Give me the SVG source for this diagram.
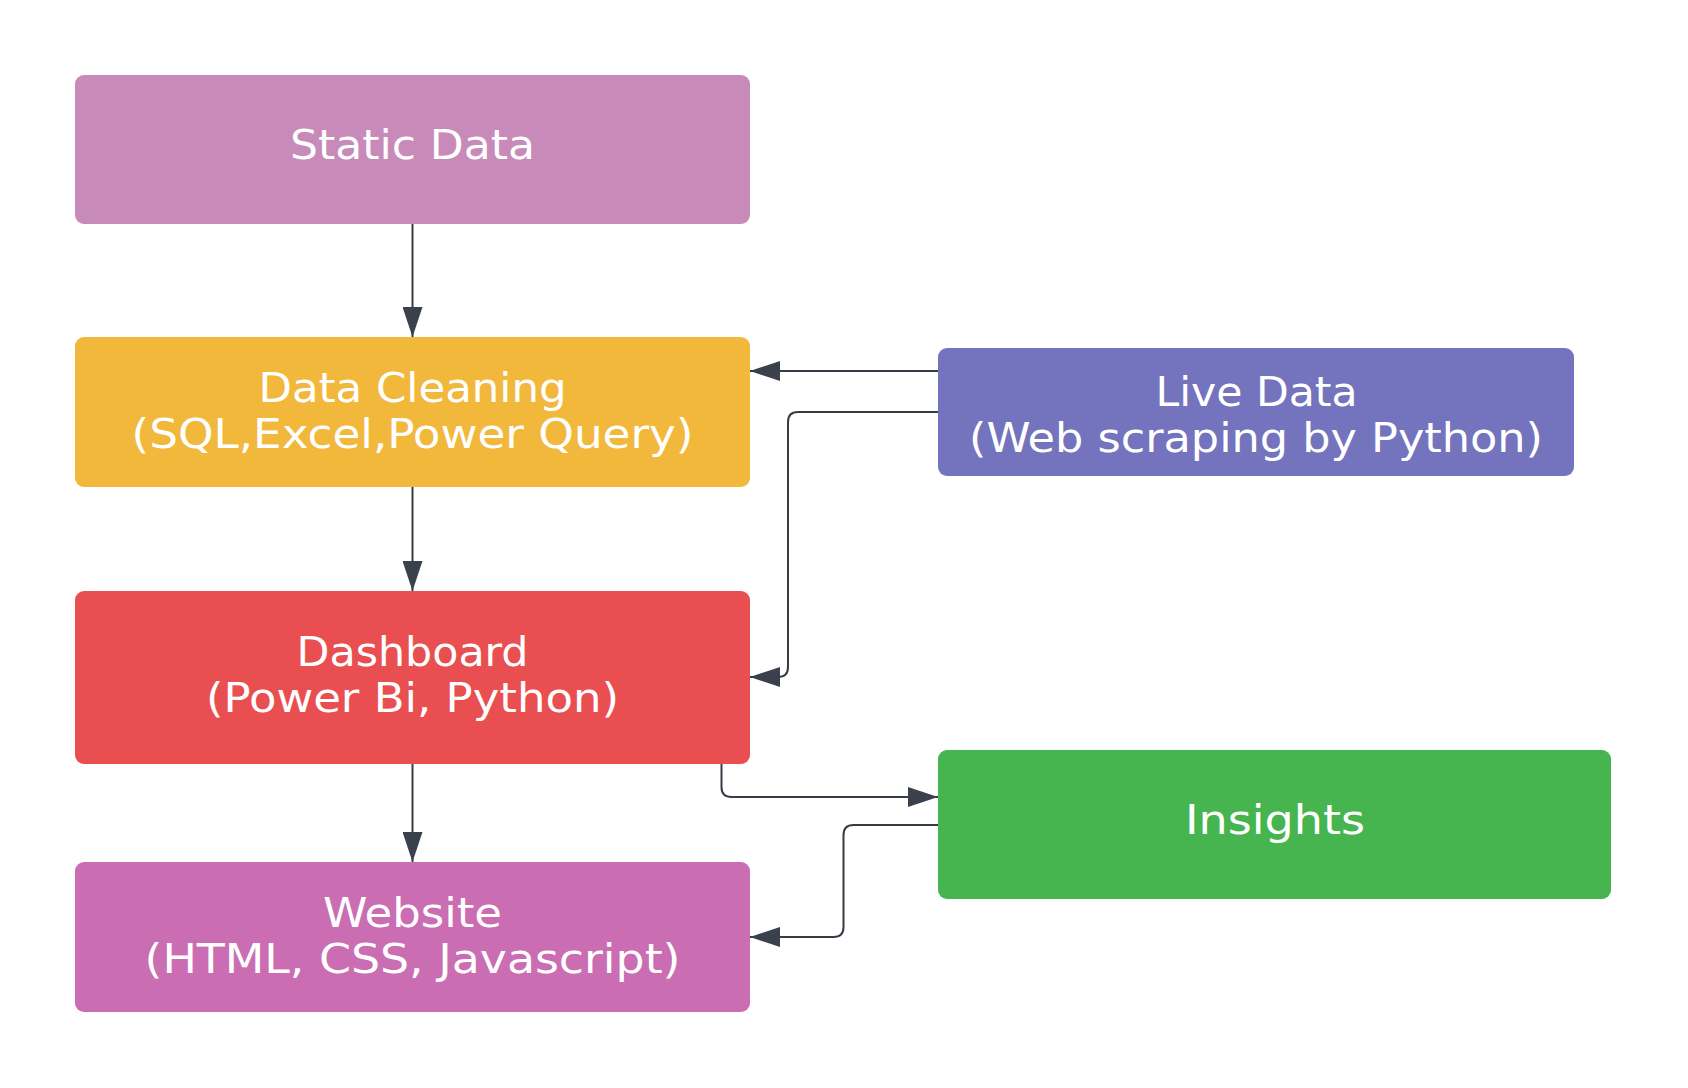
<svg xmlns="http://www.w3.org/2000/svg" width="1688" height="1088" viewBox="0 0 1688 1088">
  <style>
    .box { stroke: none; }
    .lbl { font-family: "DejaVu Sans Condensed", "DejaVu Sans", "Liberation Sans", sans-serif; font-stretch: condensed; font-size: 40px; fill: #ffffff; text-anchor: middle; }
    .edge { fill: none; stroke: #363c46; stroke-width: 2; }
  </style>
  <defs>
    <marker id="arrow" markerUnits="userSpaceOnUse" markerWidth="30" markerHeight="20" refX="30" refY="10" orient="auto">
      <path d="M0,0 L30,10 L0,20 Z" fill="#3a414c"/>
    </marker>
  </defs>
  <rect width="1688" height="1088" fill="#ffffff"/>

  <g id="connectors">
    <path class="edge" d="M412.5,224 V337" marker-end="url(#arrow)"/>
    <path class="edge" d="M412.5,487 V591" marker-end="url(#arrow)"/>
    <path class="edge" d="M412.5,764 V862" marker-end="url(#arrow)"/>
    <path class="edge" d="M938,371 H750" marker-end="url(#arrow)"/>
    <path class="edge" d="M938,412 H798 Q788,412 788,422 V667 Q788,677 778,677 H750" marker-end="url(#arrow)"/>
    <path class="edge" d="M721.5,764 V787 Q721.5,797 731.5,797 H938" marker-end="url(#arrow)"/>
    <path class="edge" d="M938,825 H853.5 Q843.5,825 843.5,835 V927 Q843.5,937 833.5,937 H750" marker-end="url(#arrow)"/>
  </g>

  <g id="static-data">
    <rect class="box" x="75" y="75" width="675" height="149" rx="9" fill="#C78AB9"/>
    <text class="lbl" x="412.5" y="159" textLength="245" lengthAdjust="spacingAndGlyphs">Static Data</text>
  </g>

  <g id="data-cleaning">
    <rect class="box" x="75" y="337" width="675" height="150" rx="9" fill="#F2B83C"/>
    <text class="lbl" x="412.5" y="402" textLength="308" lengthAdjust="spacingAndGlyphs">Data Cleaning</text>
    <text class="lbl" x="412.5" y="448" textLength="562" lengthAdjust="spacingAndGlyphs">(SQL,Excel,Power Query)</text>
  </g>

  <g id="live-data">
    <rect class="box" x="938" y="348" width="636" height="128" rx="9" fill="#7473BD"/>
    <text class="lbl" x="1256.5" y="406" textLength="202" lengthAdjust="spacingAndGlyphs">Live Data</text>
    <text class="lbl" x="1256" y="452" textLength="574" lengthAdjust="spacingAndGlyphs">(Web scraping by Python)</text>
  </g>

  <g id="dashboard">
    <rect class="box" x="75" y="591" width="675" height="173" rx="9" fill="#E94F50"/>
    <text class="lbl" x="412.5" y="666" textLength="232" lengthAdjust="spacingAndGlyphs">Dashboard</text>
    <text class="lbl" x="412.5" y="712" textLength="413" lengthAdjust="spacingAndGlyphs">(Power Bi, Python)</text>
  </g>

  <g id="insights">
    <rect class="box" x="938" y="750" width="673" height="149" rx="9" fill="#46B54F"/>
    <text class="lbl" x="1275" y="834" textLength="180" lengthAdjust="spacingAndGlyphs">Insights</text>
  </g>

  <g id="website">
    <rect class="box" x="75" y="862" width="675" height="150" rx="9" fill="#CA6DB2"/>
    <text class="lbl" x="412.5" y="927" textLength="179" lengthAdjust="spacingAndGlyphs">Website</text>
    <text class="lbl" x="412.5" y="973" textLength="536" lengthAdjust="spacingAndGlyphs">(HTML, CSS, Javascript)</text>
  </g>
</svg>
